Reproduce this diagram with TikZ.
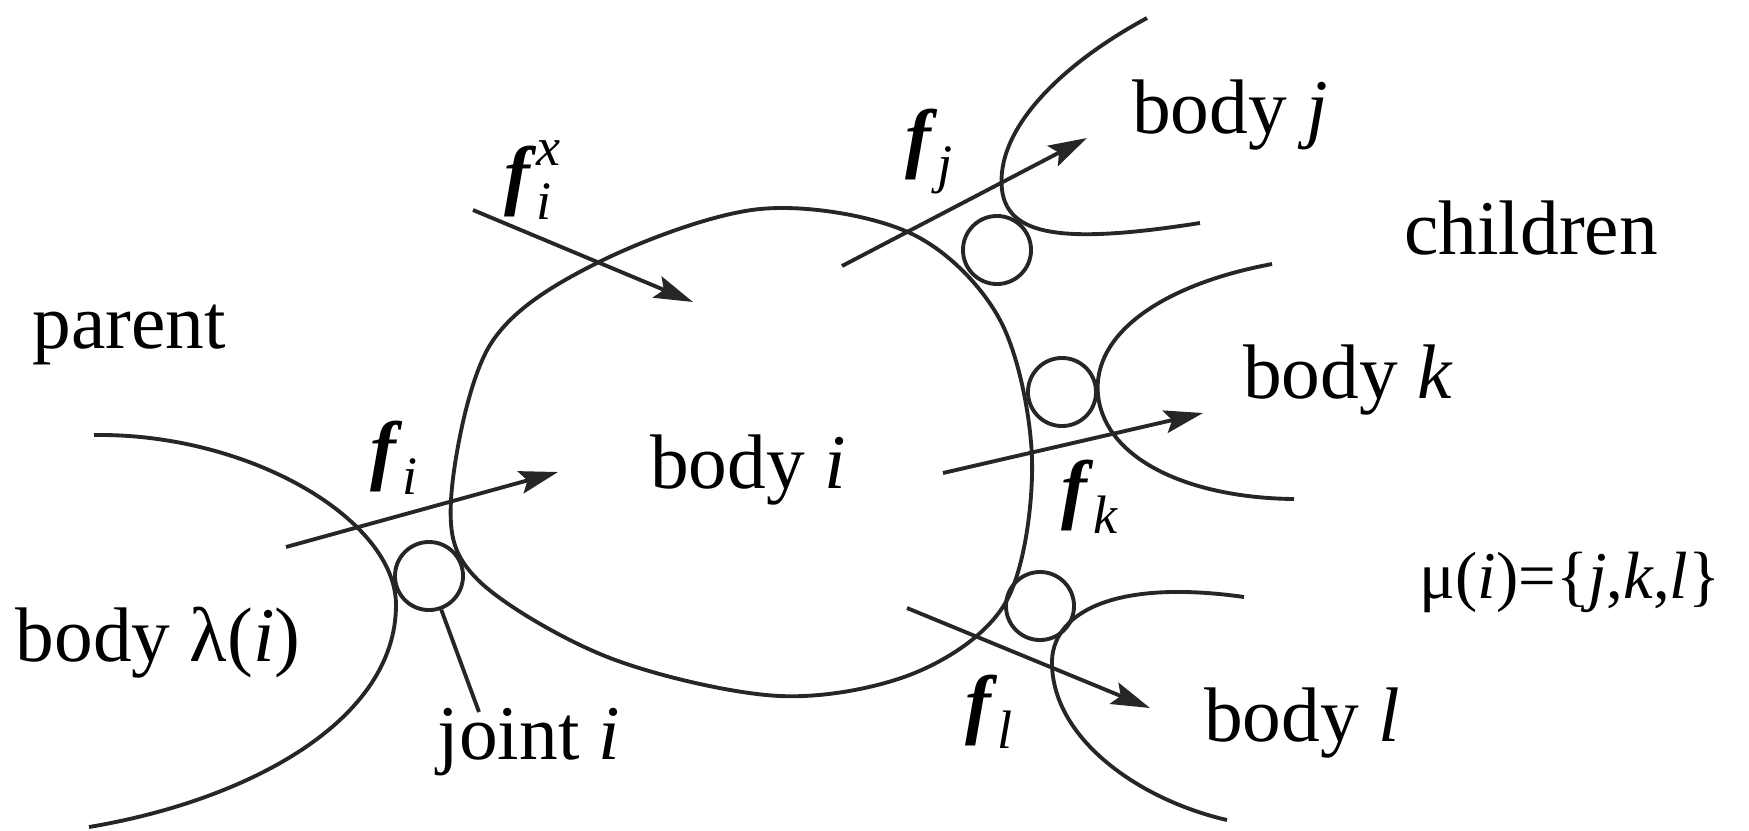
\documentclass[tikz,border=0pt]{standalone}
\usepackage{amsmath}
\usepackage{fontspec}
\setmainfont{Liberation Serif}
\usetikzlibrary{arrows.meta}
\begin{document}
\begin{tikzpicture}[x=0.01cm,y=-0.01cm,
  outline/.style={line width=1.1pt, draw=black!85},
  force/.style={outline, -{Stealth[length=11pt,width=6.5pt,inset=2pt]}},
  joint/.style={circle, outline, minimum size=0.68cm, inner sep=0pt},
  lbl/.style={font=\fontsize{22}{26}\selectfont, inner sep=0pt, text=black},
  smalllbl/.style={font=\fontsize{19}{23}\selectfont, inner sep=0pt, text=black}
]
\useasboundingbox (0,0) rectangle (1749,830);

% main body i
\draw[outline] plot[smooth cycle, tension=0.55] coordinates {(451,500) (490,345) (597,263) (760,209) (910,233) (1000,320) (1032,460) (1007,600) (917,672) (780,696) (610,658) (478,580)};

% parent body
\draw[outline] (94,435) .. controls (250,433) and (396,520) .. (396,605) .. controls (396,720) and (250,800) .. (89,827);

% child bodies
\draw[outline] (1147,18) .. controls (1060,65) and (995,130) .. (1002,190) .. controls (1008,235) and (1060,245) .. (1200,223);
\draw[outline] (1272,264) .. controls (1160,285) and (1092,335) .. (1098,395) .. controls (1105,460) and (1190,498) .. (1294,499);
\draw[outline] (1244,597) .. controls (1110,578) and (1050,615) .. (1052,665) .. controls (1054,740) and (1140,800) .. (1227,820);

% joints
\node[joint] (ji) at (429,576) {};
\node[joint] (jj) at (997,250) {};
\node[joint] (jk) at (1062,392) {};
\node[joint] (jl) at (1040,606) {};

% labels
\node[lbl] (Lfix) at (533,180) {$\textbf{\textit{f}}_{\textit{i}}^{\textit{x}}$};
\node[lbl] (Lfj) at (930,152) {$\textbf{\textit{f}}_{\textit{j}}$};
\node[lbl] (Lfi) at (395,458) {$\textbf{\textit{f}}_{\textit{i}}$};
\node[lbl] (Lfk) at (1090,497) {$\textbf{\textit{f}}_{\textit{k}}$};
\node[lbl] (Lfl) at (990,712) {$\textbf{\textit{f}}_{\textit{l}}$};
\node[lbl] (Lbj) at (1230,115) {body \textit{j}};
\node[lbl] (Lch) at (1531,228) {children};
\node[lbl] (Lbk) at (1348,380) {body \textit{k}};
\node[lbl] (Lpa) at (129,335) {parent};
\node[lbl] (Lbi) at (748,470) {body \textit{i}};
\node[lbl] (Lbp) at (158,643) {body λ(\textit{i})};
\node[lbl] (Lji) at (529,742) {joint \textit{i}};
\node[lbl] (Lbl) at (1302,723) {body \textit{l}};
\node[smalllbl] (Lmu) at (1570,582) {μ(\textit{i})=\{\textit{j},\textit{k},\textit{l}\}};

% joint i leader
\coordinate (jilead) at (479,712);
\draw[outline] (ji.-70) -- (jilead);

% forces
\coordinate (fixs) at (473,210); \coordinate (fixe) at (693,302);
\coordinate (fjs) at (842,266);  \coordinate (fje) at (1087,138);
\coordinate (fis) at (286,547);  \coordinate (fie) at (558,472);
\coordinate (fks) at (943,473);  \coordinate (fke) at (1203,413);
\coordinate (fls) at (907,608);  \coordinate (fle) at (1150,708);
\draw[force] (fixs) -- (fixe);
\draw[force] (fjs) -- (fje);
\draw[force] (fis) -- (fie);
\draw[force] (fks) -- (fke);
\draw[force] (fls) -- (fle);
\end{tikzpicture}
\end{document}
